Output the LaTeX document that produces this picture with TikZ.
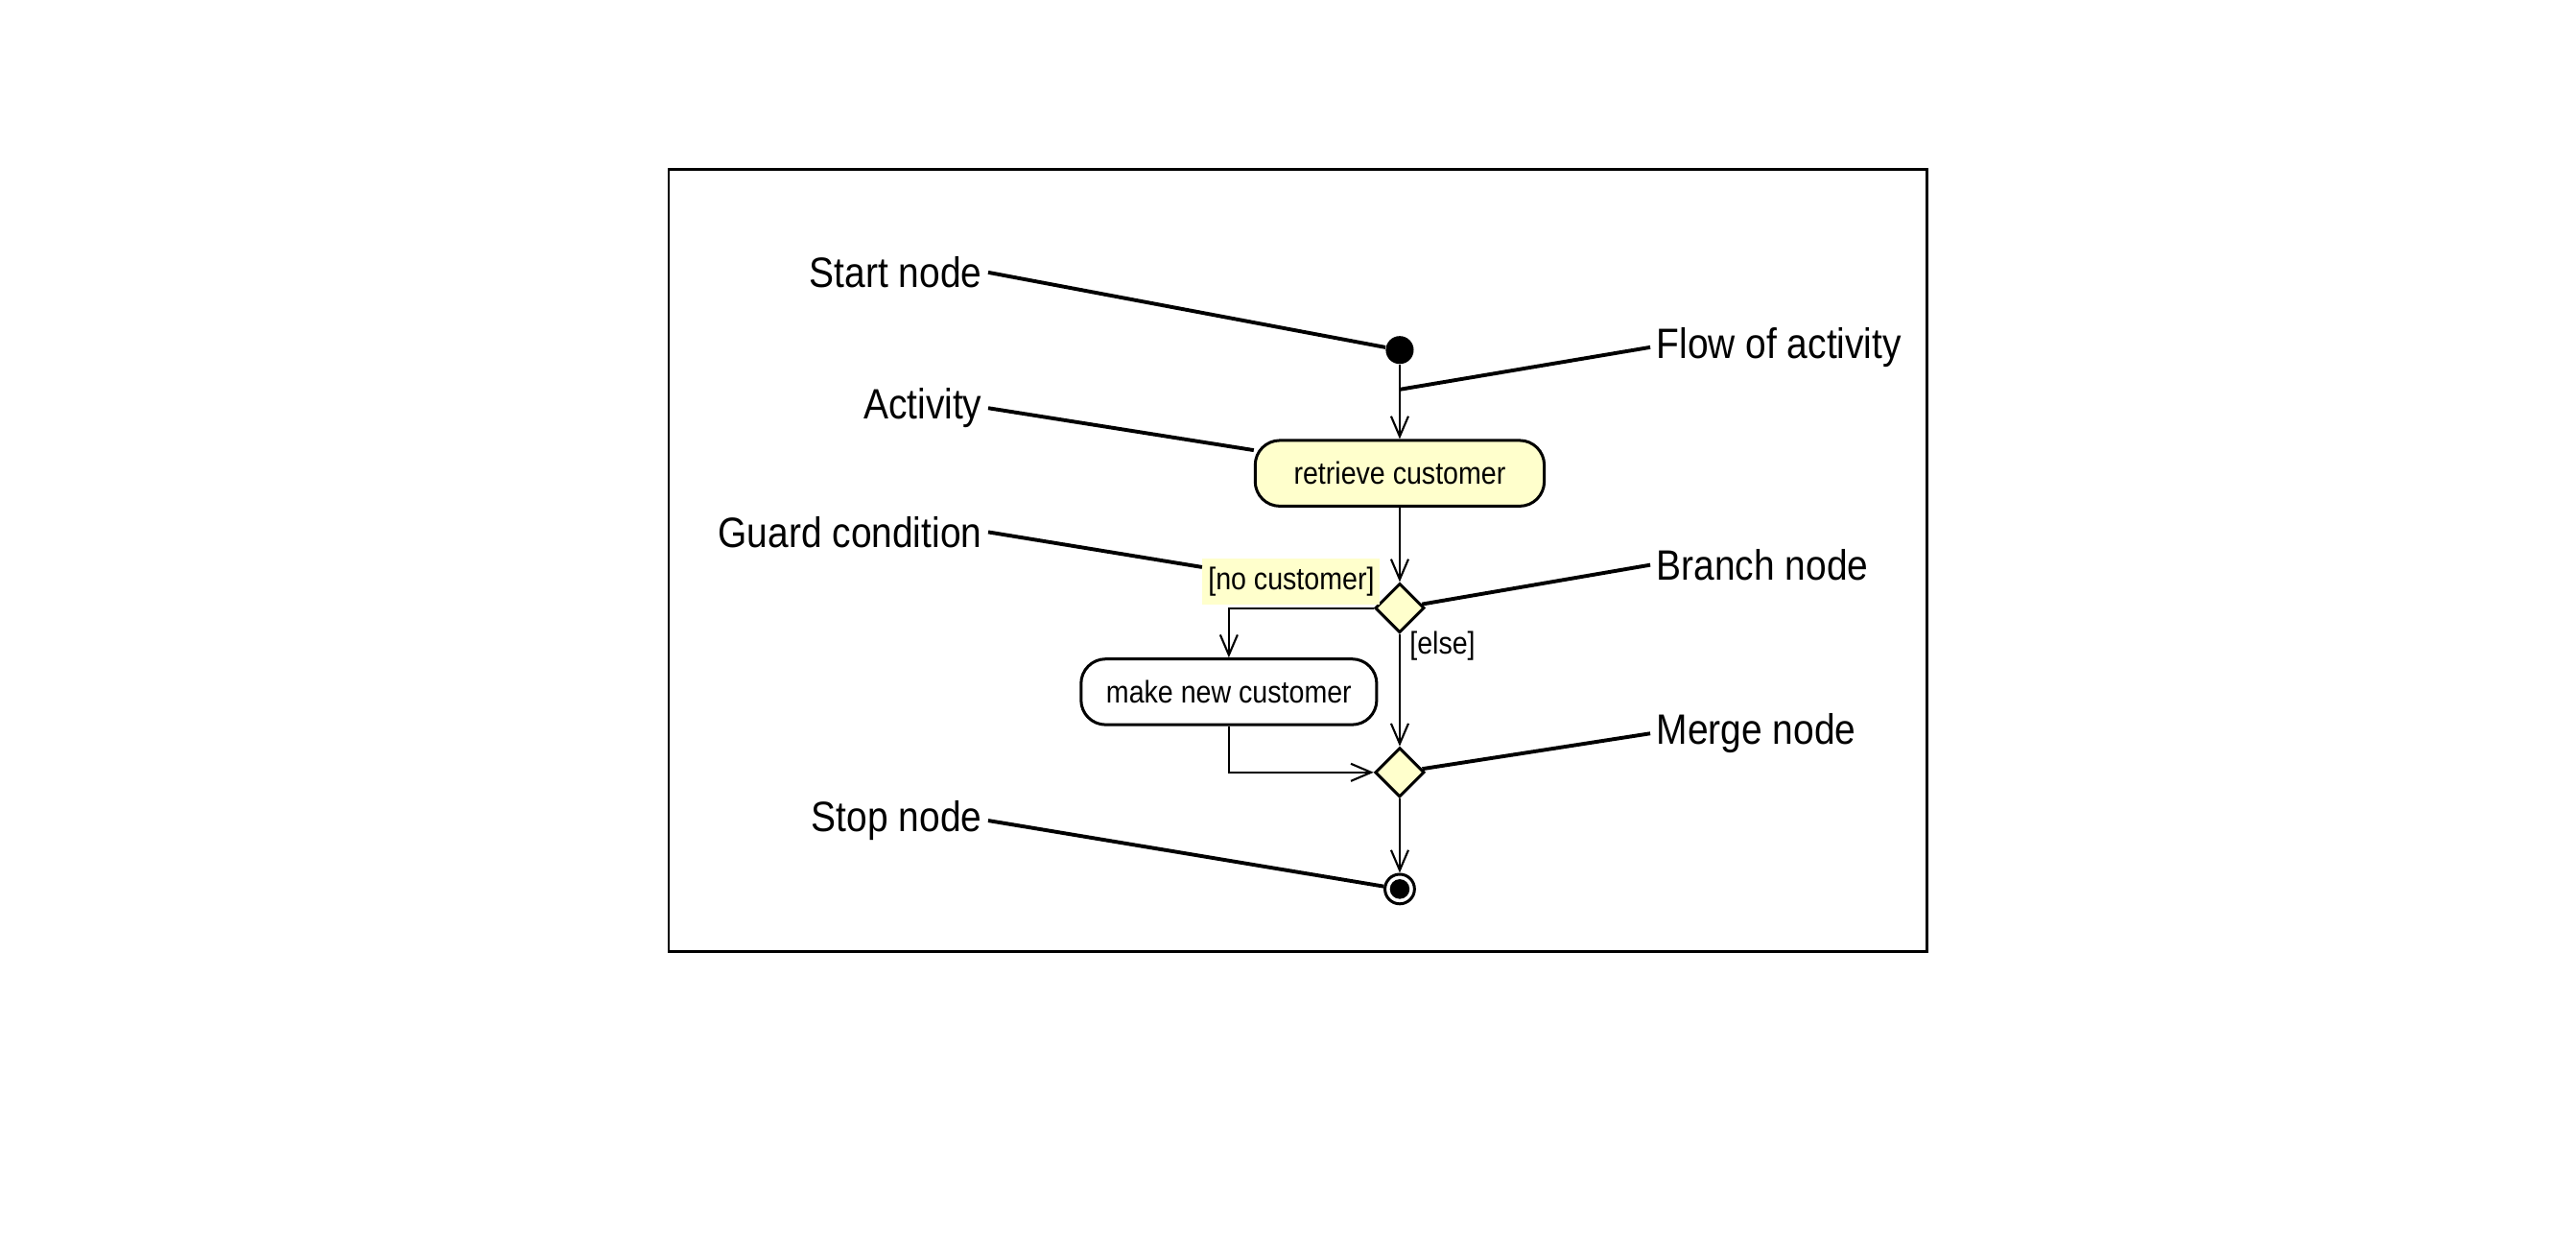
\documentclass[tikz,border=0pt]{standalone}
\usepackage{fontspec}
\setmainfont{Liberation Sans}[FakeStretch=0.88]
\usetikzlibrary{shapes.geometric,arrows.meta}
\definecolor{umlyellow}{HTML}{FFFFCC}
\begin{document}
\begin{tikzpicture}[x=0.02cm,y=-0.02cm]
    % Styles
        \tikzstyle{activity} = [rectangle, draw, fill=umlyellow, rounded corners=0.3cm, text centered, minimum height=0.8cm, line width=1pt, font=\fontsize{10.8}{13}\selectfont]
        \tikzstyle{decision} = [diamond, draw, fill=umlyellow, inner sep=0pt, minimum size=0.6cm, line width=1pt]
        \tikzstyle{callout} = [inner sep=0pt, font=\fontsize{14.7}{17}\selectfont]
        \tikzstyle{guard} = [inner sep=1pt, font=\fontsize{10.8}{13}\selectfont]
        \tikzstyle{flow} = [draw, line width=0.7pt, -{Straight Barb[length=7pt,width=6pt]}]
        \tikzstyle{pointer} = [draw, line width=1.3pt]
    % page and frame
        \useasboundingbox (0,0) rectangle (1568,753);
        \draw [line width=0.8pt] (407,103) rectangle (1173,579);
    % activity diagram
        \node [circle, fill=black, inner sep=0pt, minimum size=0.34cm] (start) at (852,213) {};
        \node [activity, minimum width=3.52cm] (retrieve) at (852,288) {retrieve customer};
        \node [decision] (branch) at (852,370) {};
        \node [activity, fill=white, minimum width=3.6cm] (newcust) at (748,421) {make new customer};
        \node [decision] (merge) at (852,470) {};
        \node [circle, draw, line width=1pt, inner sep=0pt, minimum size=0.36cm,
               path picture={\fill (path picture bounding box.center) circle (0.12cm);}] (stop) at (852,541) {};
    % guards
        \node [guard, fill=umlyellow, minimum width=2.16cm, minimum height=0.56cm] (nocust) at (786,354) {[no customer]};
        \node [guard] (else) at (878,393) {[else]};
    % flows
        \path [flow] (start) -- (retrieve);
        \path [flow] (retrieve) -- (branch);
        \path [flow] (branch.west) -| (newcust.north);
        \path [flow] (branch) -- (merge);
        \path [flow] (newcust.south) |- (merge.west);
        \path [flow] (merge) -- (stop);
        \coordinate (flowpt) at (852,237);
    % left callouts
        \node [callout, anchor=base east] (startlbl) at (598,175) {Start node};
        \node [callout, anchor=base east] (activitylbl) at (598,255) {Activity};
        \node [callout, anchor=base east] (guardlbl) at (598,333) {Guard condition};
        \node [callout, anchor=base east] (stoplbl) at (598,506) {Stop node};
    % right callouts
        \node [callout, anchor=base west] (flowlbl) at (1008,218) {Flow of activity};
        \node [callout, anchor=base west] (branchlbl) at (1008,353) {Branch node};
        \node [callout, anchor=base west] (mergelbl) at (1008,453) {Merge node};
    % Draw pointers
        \path [pointer] ([xshift=2pt]startlbl.east) -- (start);
        \path [pointer] ([xshift=2pt]activitylbl.east) -- (retrieve);
        \path [pointer] ([xshift=2pt]guardlbl.east) -- (nocust);
        \path [pointer] ([xshift=2pt]stoplbl.east) -- (stop);
        \path [pointer] ([xshift=-2pt]flowlbl.west) -- (flowpt);
        \path [pointer] ([xshift=-2pt]branchlbl.west) -- (branch);
        \path [pointer] ([xshift=-2pt]mergelbl.west) -- (merge);
\end{tikzpicture}
\end{document}
